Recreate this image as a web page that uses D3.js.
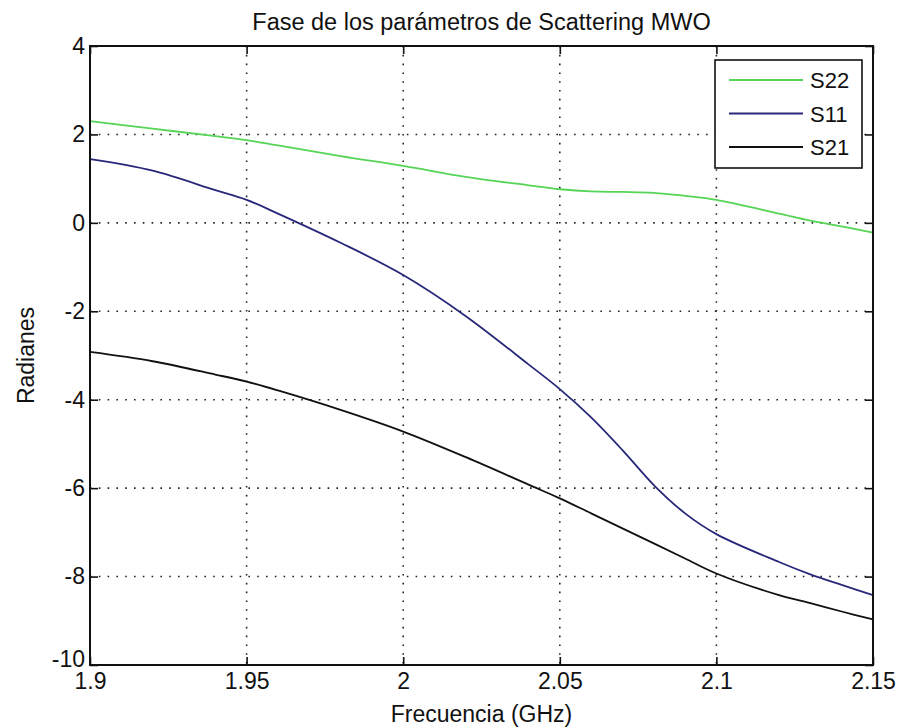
<!DOCTYPE html>
<html>
<head>
<meta charset="utf-8">
<script src="https://cdn.jsdelivr.net/npm/d3@7"></script>
<style>
  body { margin: 0; background: #fff; }
  text { font-family: "Liberation Sans", Arial, sans-serif; fill: #111; }
</style>
</head>
<body>
<div id="chart"></div>
<script>
// frequency grid (GHz) and phase of each S-parameter (radians)
const freq = [1.9, 1.92, 1.94, 1.95, 1.96, 1.98, 2.0, 2.02, 2.04, 2.05, 2.06, 2.07, 2.08, 2.09, 2.1, 2.12, 2.13, 2.14, 2.15]
const s22 = [2.30, 2.13, 1.96, 1.87, 1.75, 1.51, 1.29, 1.04, 0.85, 0.76, 0.71, 0.70, 0.68, 0.61, 0.52, 0.21, 0.05, -0.08, -0.22]
const s11 = [1.44, 1.18, 0.74, 0.52, 0.21, -0.45, -1.18, -2.11, -3.20, -3.76, -4.40, -5.14, -5.93, -6.57, -7.04, -7.67, -7.95, -8.19, -8.42]
const s21 = [-2.92, -3.13, -3.43, -3.59, -3.79, -4.23, -4.72, -5.30, -5.92, -6.23, -6.57, -6.91, -7.25, -7.59, -7.93, -8.42, -8.60, -8.79, -8.97]

const seriesNames = ["S22", "S11", "S21"]
const seriesColors = ["#55d455", "#28287a", "#111111"]

const xTicks = [1.9, 1.95, 2.0, 2.05, 2.1, 2.15]
const yTicks = [4, 2, 0, -2, -4, -6, -8, -10]

const width = 900
const height = 728
const margin = { top: 46, right: 27, bottom: 63, left: 90 }

const svg = d3.select("#chart")
  .append("svg")
  .attr("width", width)
  .attr("height", height)

const x = d3.scaleLinear().domain([1.9, 2.15]).range([margin.left, width - margin.right])
const y = d3.scaleLinear().domain([-10, 4]).range([height - margin.bottom, margin.top])

const plotLeft = x.range()[0], plotRight = x.range()[1]
const plotTop = y.range()[1], plotBottom = y.range()[0]

// dotted grid
const grid = svg.append("g").attr("class", "grid")
grid.selectAll("line.gx")
  .data(xTicks)
  .enter()
    .append("line")
    .attr("class", "gx")
    .attr("x1", d => x(d)).attr("x2", d => x(d))
    .attr("y1", plotTop).attr("y2", plotBottom)
grid.selectAll("line.gy")
  .data(yTicks)
  .enter()
    .append("line")
    .attr("class", "gy")
    .attr("x1", plotLeft).attr("x2", plotRight)
    .attr("y1", d => y(d)).attr("y2", d => y(d))
grid.selectAll("line")
  .attr("stroke", "#222")
  .attr("stroke-width", 1.6)
  .attr("stroke-dasharray", "1.6,7.2")

// curves
const series = [s22, s11, s21]
const line = d3.line()
  .x(d => x(d[0]))
  .y(d => y(d[1]))
  .curve(d3.curveCatmullRom.alpha(0.5))

svg.append("g")
  .selectAll("path.curve")
  .data(series)
  .enter()
    .append("path")
    .attr("class", "curve")
    .attr("d", d => line(freq.map((f, i) => [f, d[i]])))
    .attr("fill", "none")
    .attr("stroke", (d, i) => seriesColors[i])
    .attr("stroke-width", 1.8)

// axes: MATLAB style box with inward ticks, plain hyphen minus
const tickLen = 8
const fmt = d => String(d)
svg.append("g")
  .attr("transform", `translate(0,${plotBottom})`)
  .call(d3.axisBottom(x).tickValues(xTicks).tickSizeInner(-tickLen).tickSizeOuter(0).tickPadding(8).tickFormat(fmt))
svg.append("g")
  .attr("transform", `translate(0,${plotTop})`)
  .call(d3.axisTop(x).tickValues(xTicks).tickSizeInner(-tickLen).tickSizeOuter(0).tickFormat(""))
const yAxis = svg.append("g")
  .attr("transform", `translate(${plotLeft},0)`)
  .call(d3.axisLeft(y).tickValues(yTicks).tickSizeInner(-tickLen).tickSizeOuter(0).tickPadding(5).tickFormat(fmt))
svg.append("g")
  .attr("transform", `translate(${plotRight},0)`)
  .call(d3.axisRight(y).tickValues(yTicks).tickSizeInner(-tickLen).tickSizeOuter(0).tickFormat(""))

svg.selectAll(".domain").remove()
svg.selectAll(".tick line").attr("stroke", "#111").attr("stroke-width", 1.6)
svg.selectAll(".tick text")
  .attr("fill", "#111")
  .style("font-size", "23px")
  .style("font-family", '"Liberation Sans", Arial, sans-serif')
// the lowest y label sits a bit higher, clear of the 1.9 label
yAxis.selectAll(".tick text")
  .filter(d => d === -10)
  .attr("dy", "0.05em")

svg.append("rect")
  .attr("x", plotLeft).attr("y", plotTop)
  .attr("width", plotRight - plotLeft).attr("height", plotBottom - plotTop)
  .attr("fill", "none")
  .attr("stroke", "#111")
  .attr("stroke-width", 2)

// titles
svg.append("text")
  .attr("x", (plotLeft + plotRight) / 2).attr("y", 30)
  .attr("text-anchor", "middle")
  .style("font-size", "23.5px")
  .text("Fase de los parámetros de Scattering MWO")

svg.append("text")
  .attr("x", (plotLeft + plotRight) / 2).attr("y", 722)
  .attr("text-anchor", "middle")
  .style("font-size", "23px")
  .text("Frecuencia (GHz)")

svg.append("text")
  .attr("transform", `translate(34,${(plotTop + plotBottom) / 2}) rotate(-90)`)
  .attr("text-anchor", "middle")
  .style("font-size", "23px")
  .text("Radianes")

// legend
const legend = svg.append("g").attr("class", "legend")
legend.append("rect")
  .attr("x", 715).attr("y", 60)
  .attr("width", 147).attr("height", 108)
  .attr("fill", "#fff")
  .attr("stroke", "#111")
  .attr("stroke-width", 1.6)

const rows = legend.selectAll("g.row")
  .data(seriesNames)
  .enter()
    .append("g")
    .attr("class", "row")
    .attr("transform", (d, i) => `translate(0,${80 + i * 33.5})`)
rows.append("line")
  .attr("x1", 729).attr("x2", 803)
  .attr("stroke", (d, i) => seriesColors[i])
  .attr("stroke-width", 1.8)
rows.append("text")
  .attr("x", 810).attr("y", 8)
  .style("font-size", "22px")
  .text(d => d)
</script>
</body>
</html>
